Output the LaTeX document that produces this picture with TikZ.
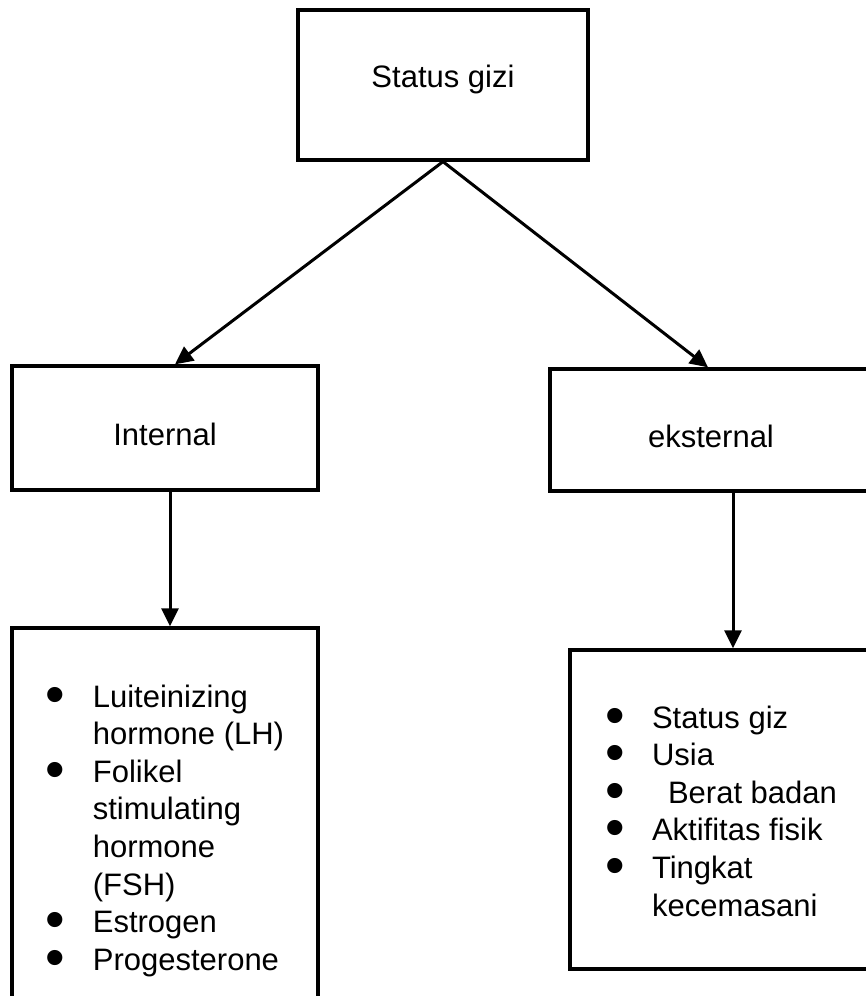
\documentclass[tikz,border=0pt]{standalone}
\usepackage{fontspec}
\setmainfont{Liberation Sans}
\usetikzlibrary{arrows.meta,positioning}

\newcommand{\blt}{\makebox[47pt][l]{\raisebox{-6pt}{\scalebox{1.8}{\textbullet}}}}

\begin{document}
\begin{tikzpicture}[x=1pt, y=-1pt,
  box/.style={draw, line width=3.3pt, inner sep=0pt, font=\fontsize{31}{37.6}\selectfont},
  link/.style={line width=3pt, -{Triangle[length=18pt,width=17pt]}}
]
  \useasboundingbox (0,0) rectangle (866,996);
  \clip (0,0) rectangle (866,996);

  \node[box, minimum width=290pt, minimum height=150pt, text height=22pt, text depth=18pt] (top) at (443,85) {Status gizi};
  \node[box, minimum width=306pt, minimum height=124pt, text height=40pt, text depth=6pt] (int) at (165,428) {Internal};
  \node[box, minimum width=322pt, minimum height=122pt, text height=40pt, text depth=6pt] (eks) at (711,430) {eksternal};

  \node[box, minimum width=306pt, text height=79pt, text depth=323pt] (llist) at (165,829) {%
    \begin{tabular}[t]{@{}l@{}l@{}}
      \blt & Luiteinizing\\
           & hormone (LH)\\
      \blt & Folikel\\
           & stimulating\\
           & hormone\\
           & (FSH)\\
      \blt & Estrogen\\
      \blt & Progesterone
    \end{tabular}};
  \node[box, minimum width=302pt, text height=78pt, text depth=241pt] (rlist) at (721,809.5) {%
    \begin{tabular}[t]{@{}l@{}l@{}}
      \blt & Status giz\\
      \blt & Usia\\
      \blt & \hspace{16pt}Berat badan\\
      \blt & Aktifitas fisik\\
      \blt & Tingkat\\
           & kecemasani
    \end{tabular}};

  \draw[link] (top.south) -- ([xshift=10pt]int.north);
  \draw[link] (top.south) -- ([xshift=-3pt]eks.north);
  \draw[link] ([xshift=5pt]int.south) -- ([xshift=5pt]llist.north);
  \draw[link] ([xshift=22pt]eks.south) -- ([xshift=12pt]rlist.north);
\end{tikzpicture}
\end{document}
